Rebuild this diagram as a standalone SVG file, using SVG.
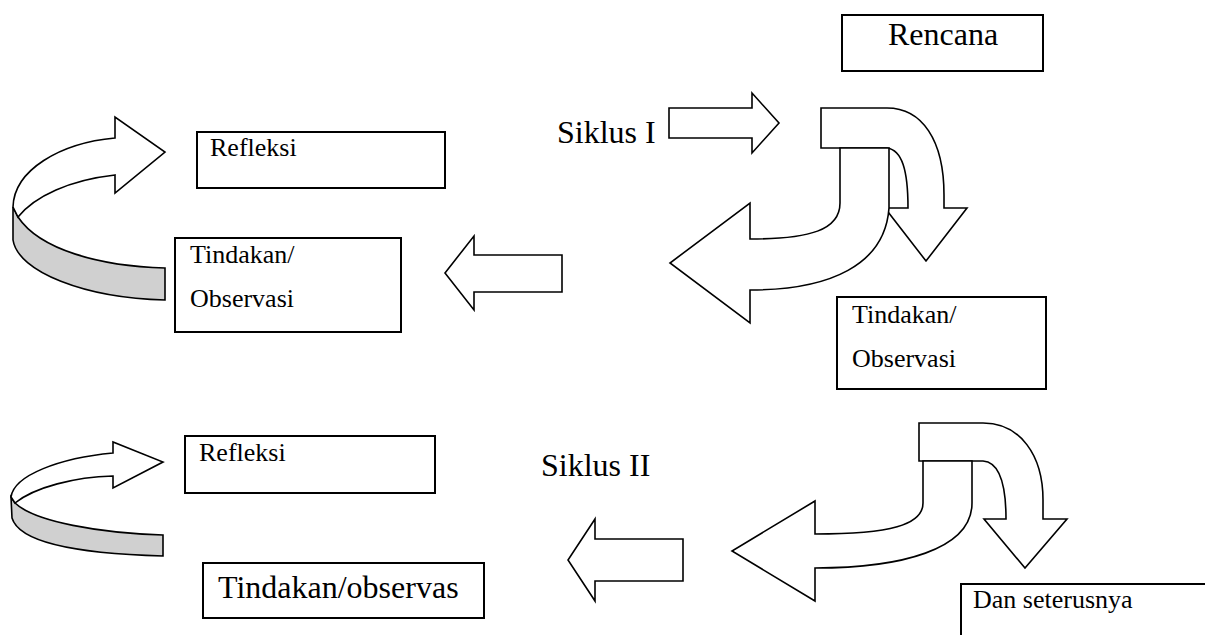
<svg xmlns="http://www.w3.org/2000/svg" width="1205" height="635" viewBox="0 0 1205 635">
<style>
.box{fill:#fff;stroke:#000;stroke-width:2}
.arr{fill:#fff;stroke:#000;stroke-width:1.6;stroke-linejoin:miter}
.band{fill:#d0d0d0;stroke:#000;stroke-width:1.6}
.t{font-family:"Liberation Serif","Times New Roman",serif;fill:#000}
.big{font-size:32px}
.sm{font-size:26px}
</style>
<rect width="1205" height="635" fill="#fff"/>
<g id="connectors">
  <g id="curved-arrow-1">
    <path class="band" d="M13,207 L13,240 C 18,272 85,298 165,300 L165,268 C 100,266 40,250 18,217 Z"/>
    <path class="arr" d="M115,138 C 60,143 14,170 13,207 L18,217 C 35,196 70,180 115,175 L115,193 L165,152 L115,117 Z"/>
  </g>
  <path id="arrow-siklus1" class="arr" d="M669,108 L752,108 L752,93 L779,123 L752,153 L752,138 L669,138 Z"/>
  <g id="split-arrow-1">
    <path class="arr" d="M821,108 L887,108 C 922,108 944,140 944,195 L944,208 L967,208 L926,261 L885,208 L908,208 C 908,170 902,150 887,148 L821,148 Z"/>
    <path class="arr" d="M840,148 L889,148 L889,208 C 885,265 830,290 750,290 L750,323 L670,263 L750,203 L750,239 C 810,239 840,230 840,203 Z"/>
  </g>
  <path id="arrow-left-1" class="arr" d="M562,255 L474,255 L474,236 L445,273 L474,310 L474,292 L562,292 Z"/>
  <g id="curved-arrow-2">
    <path class="band" d="M11,497 L12,518 C 20,545 90,554 163,556 L163,535 C 100,533 35,522 15,503 Z"/>
    <path class="arr" d="M113,453 C 60,458 14,475 11,497 L15,503 C 35,487 75,477 113,476 L113,488 L163,462 L113,442 Z"/>
  </g>
  <g id="split-arrow-2">
    <path class="arr" d="M919,423 L983,423 C 1020,423 1043,455 1043,500 L1043,519 L1067,519 L1025,568 L984,519 L1006,519 C 1006,480 998,462 983,461 L919,461 Z"/>
    <path class="arr" d="M923,461 L972,461 L972,503 C 972,550 900,568 815,568 L815,601 L732,551 L815,501 L815,534 C 890,534 923,525 923,503 Z"/>
  </g>
  <path id="arrow-left-2" class="arr" d="M683,539 L595,539 L595,519 L568,560 L595,601 L595,581 L683,581 Z"/>
</g>
<g id="rencana">
  <rect class="box" x="842" y="15" width="201" height="56"/>
  <text class="t big" x="888" y="45">Rencana</text>
</g>
<g id="siklus1-label"><text class="t big" x="557" y="143">Siklus I</text></g>
<g id="siklus2-label"><text class="t big" x="541" y="476">Siklus II</text></g>
<g id="refleksi-1">
  <rect class="box" x="197" y="132" width="248" height="56"/>
  <text class="t sm" x="210" y="156">Refleksi</text>
</g>
<g id="tindakan-1">
  <rect class="box" x="175" y="238" width="226" height="94"/>
  <text class="t sm" x="190" y="263">Tindakan/</text>
  <text class="t sm" x="190" y="307">Observasi</text>
</g>
<g id="tindakan-2">
  <rect class="box" x="837" y="297" width="209" height="92"/>
  <text class="t sm" x="852" y="323">Tindakan/</text>
  <text class="t sm" x="852" y="367">Observasi</text>
</g>
<g id="refleksi-2">
  <rect class="box" x="185" y="436" width="250" height="57"/>
  <text class="t sm" x="199" y="461">Refleksi</text>
</g>
<g id="tindakan-3">
  <rect class="box" x="203" y="563" width="281" height="55"/>
  <text class="t big" x="218" y="598">Tindakan/observas</text>
</g>
<g id="dan-seterusnya">
  <rect class="box" x="961" y="584" width="300" height="100"/>
  <text class="t sm" x="973" y="608">Dan seterusnya</text>
</g>
</svg>
